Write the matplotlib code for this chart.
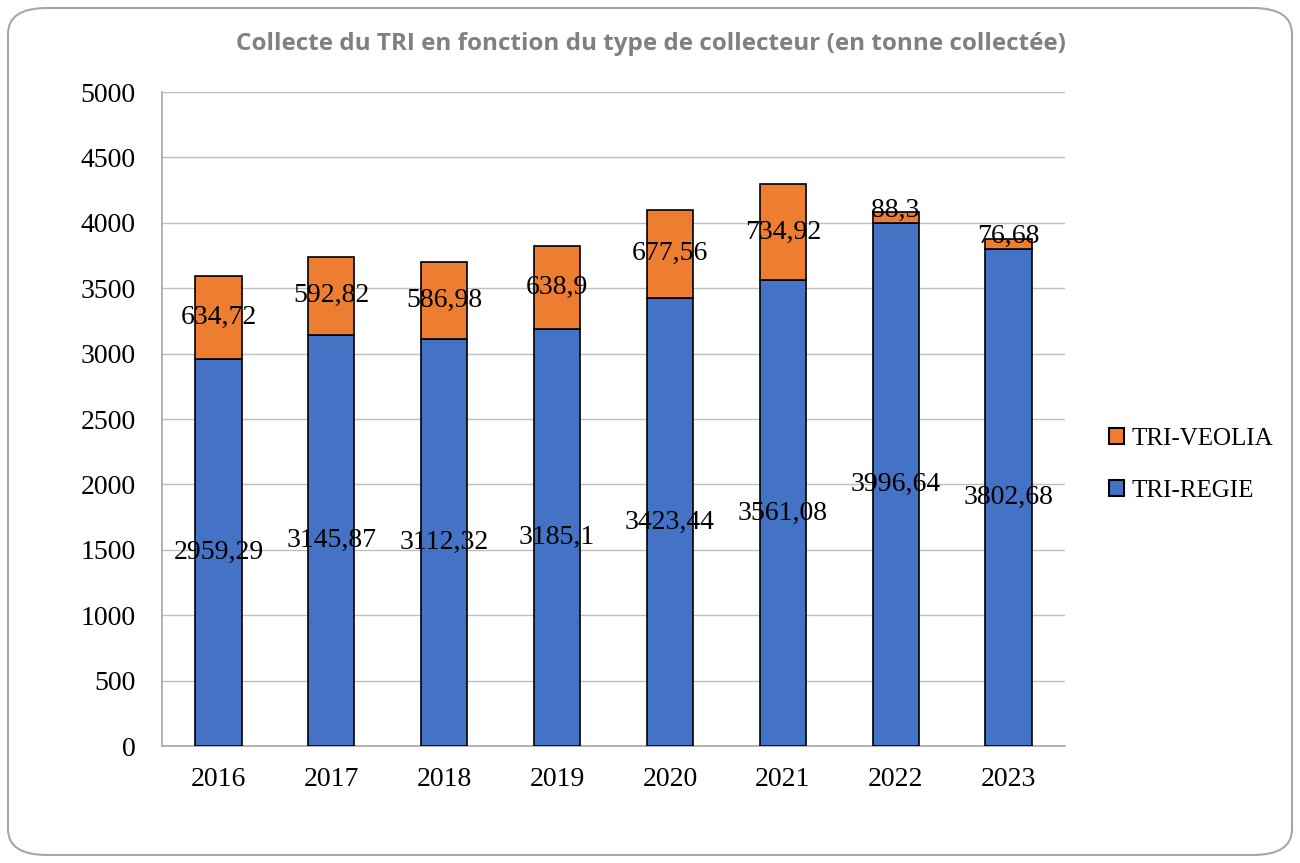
import matplotlib.pyplot as plt
from matplotlib.patches import FancyBboxPatch, Patch
import numpy as np

years = ["2016", "2017", "2018", "2019", "2020", "2021", "2022", "2023"]
regie = [2959.29, 3145.87, 3112.32, 3185.1, 3423.44, 3561.08, 3996.64, 3802.68]
veolia = [634.72, 592.82, 586.98, 638.9, 677.56, 734.92, 88.3, 76.68]

blue = "#4472C4"
orange = "#ED7D31"
serif = ["Liberation Serif", "DejaVu Serif"]


def fr(v):
    return str(v).replace(".", ",")


fig = plt.figure(figsize=(13, 8.63), dpi=100)
ax = fig.add_axes([162 / 1300, 1 - 746 / 863, 903 / 1300, 654 / 863])

# rounded frame round the whole chart
fig.patches.append(FancyBboxPatch((8 / 1300, 8 / 863), 1284 / 1300, 847 / 863,
                                  boxstyle="round,pad=0,rounding_size=0.03",
                                  transform=fig.transFigure, fill=False,
                                  edgecolor="#A6A6A6", linewidth=1.5))

x = np.arange(len(years))
w = 0.41
ax.bar(x, regie, w, color=blue, edgecolor="black", linewidth=1.2, zorder=3)
ax.bar(x, veolia, w, bottom=regie, color=orange, edgecolor="black", linewidth=1.2, zorder=3)

for i in range(len(years)):
    ax.text(x[i], regie[i] / 2, fr(regie[i]), ha="center", va="center",
            fontsize=20, family=serif, color="black", zorder=4)
    # thin segments: nudge the label up a little, like the original
    dy = 5 if veolia[i] < 200 else 0
    ax.annotate(fr(veolia[i]), (x[i], regie[i] + veolia[i] / 2), xytext=(0, dy),
                textcoords="offset points", ha="center", va="center",
                fontsize=20, family=serif, color="black", zorder=4)

ax.set_xlim(-0.5, len(years) - 0.5)
ax.set_ylim(0, 5000)
ax.set_yticks(range(0, 5001, 500))
ax.set_xticks(x)
ax.set_xticklabels(years)
ax.grid(axis="y", color="#BFBFBF", linewidth=1, zorder=0)
for s in ["top", "right"]:
    ax.spines[s].set_visible(False)
ax.spines["left"].set_color("#A6A6A6")
ax.spines["bottom"].set_color("#A6A6A6")
ax.spines["left"].set_linewidth(1.2)
ax.spines["bottom"].set_linewidth(1.2)
ax.tick_params(length=0, labelsize=20)
ax.tick_params(axis="x", pad=15)
ax.tick_params(axis="y", pad=19)
for lab in ax.get_xticklabels() + ax.get_yticklabels():
    lab.set_family(serif)

fig.text(651 / 1300, 1 - 44 / 863, "Collecte du TRI en fonction du type de collecteur (en tonne collectée)",
         ha="center", va="center", fontsize=17.5, fontweight="bold", color="#808080",
         family=["Open Sans", "DejaVu Sans"])

handles = [Patch(facecolor=orange, edgecolor="black", linewidth=1.5),
           Patch(facecolor=blue, edgecolor="black", linewidth=1.5)]
fig.legend(handles, ["TRI-VEOLIA", "TRI-REGIE"], loc="center left",
           bbox_to_anchor=(1086 / 1300, 1 - 465 / 863), frameon=False,
           prop={"family": serif, "size": 18}, handlelength=0.6, handleheight=0.6,
           handletextpad=0.3, labelspacing=1.2)

fig.savefig("out.png", dpi=100)
